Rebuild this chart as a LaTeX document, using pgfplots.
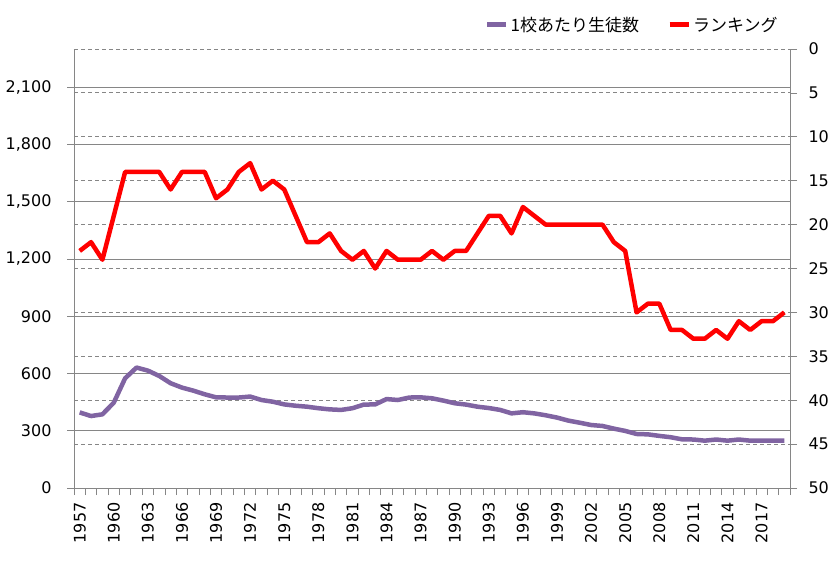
\documentclass[border=0pt]{standalone}
\usepackage{pgfplots}
\pgfplotsset{compat=1.18}
\usepackage{pgfplotstable}
\usepackage{fontspec}
\setmainfont{DejaVu Sans}
\newfontfamily\jp{Noto Sans CJK JP}
\definecolor{purp}{HTML}{8064A2}
\definecolor{gridc}{HTML}{868686}
\definecolor{dashc}{HTML}{ABABAB}

\pgfplotstableread{
year stu rank
1957 396 23
1958 377 22
1959 386 24
1960 447 19
1961 575 14
1962 631 14
1963 615 14
1964 587 14
1965 549 16
1966 526 14
1967 510 14
1968 491 14
1969 475 17
1970 474 16
1971 474 14
1972 479 13
1973 461 16
1974 452 15
1975 438 16
1976 431 19
1977 426 22
1978 418 22
1979 412 21
1980 409 23
1981 418 24
1982 437 23
1983 438 25
1984 466 23
1985 461 24
1986 474 24
1987 475 24
1988 470 23
1989 458 24
1990 444 23
1991 437 23
1992 426 21
1993 419 19
1994 409 19
1995 391 21
1996 397 18
1997 391 19
1998 381 20
1999 369 20
2000 353 20
2001 342 20
2002 330 20
2003 325 20
2004 311 22
2005 299 23
2006 283 30
2007 281 29
2008 273 29
2009 266 32
2010 255 32
2011 254 33
2012 248 33
2013 254 32
2014 248 33
2015 254 31
2016 248 32
2017 248 31
2018 248 31
2019 248 30
}\data

\begin{document}
\begin{tikzpicture}
\pgfplotsset{
  common/.style={
    at={(0,0)}, anchor=south west,
    scale only axis, width=716pt, height=439pt,
    xmin=1956.5, xmax=2019.5,
    tick align=outside,
    major tick length=7pt,
    axis line style={gridc, line width=0.8pt},
    every tick/.style={gridc, line width=0.8pt},
    tick label style={font=\fontsize{16}{19}\selectfont, /pgf/number format/assume math mode=true},
  }
}
\begin{axis}[common,
  ymin=0, ymax=2300,
  axis y line*=left, axis x line*=bottom,
  ytick={0,300,...,2100},
  ymajorgrids,
  y grid style={gridc, line width=0.8pt},
  extra y ticks={230,460,...,2300},
  extra y tick labels={},
  extra y tick style={major tick length=0pt, grid=major, major grid style={dashc, line width=0.8pt, dash pattern=on 4pt off 3pt}},
  xtick={1956.5,1957.5,...,2019.5},
  xticklabels={},
  extra x ticks={1957,1960,...,2017},
  extra x tick labels={1957,1960,1963,1966,1969,1972,1975,1978,1981,1984,1987,1990,1993,1996,1999,2002,2005,2008,2011,2014,2017},
  extra x tick style={major tick length=0pt, tick style={draw=none},
    tick label style={yshift=-11pt, rotate=90, anchor=east}},
  y tick label style={xshift=-12pt},
]
\addplot[purp, line width=4.5pt, line join=round] table[x=year, y=stu] {\data};
\end{axis}
\begin{axis}[common,
  ymin=0, ymax=50, y dir=reverse,
  axis y line*=right, axis x line=none,
  ytick={0,5,...,50},
  y tick label style={xshift=8pt},
  legend style={at={(0.99,1.055)}, anchor=east, draw=none, fill=none,
    font=\jp\fontsize{17}{20}\selectfont, legend columns=2,
    /tikz/every even column/.append style={column sep=26pt}},
  legend cell align=left,
  legend image code/.code={\draw[#1, line width=5pt] (0pt,0pt) -- (19pt,0pt);},
]
\addlegendimage{purp}
\addlegendentry{1校あたり生徒数}
\addplot[red, line width=4.5pt, line join=round] table[x=year, y=rank] {\data};
\addlegendentry{ランキング}
\end{axis}
\pgfresetboundingbox
\path[use as bounding box] (-74pt,-74pt) rectangle (760pt,488pt);
\end{tikzpicture}
\end{document}
